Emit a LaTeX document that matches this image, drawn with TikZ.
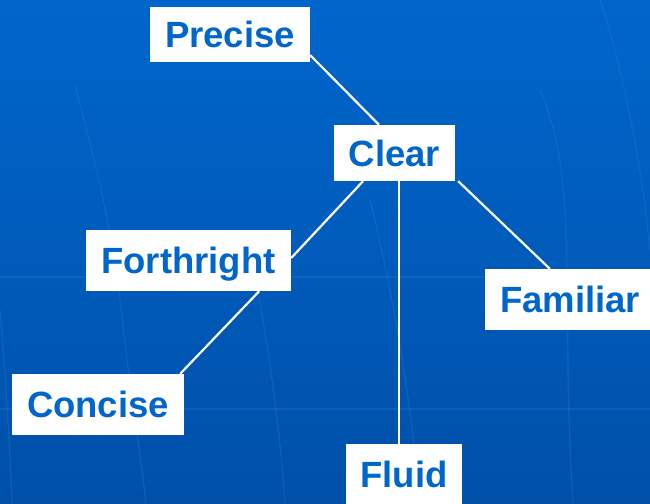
\documentclass[tikz,border=0pt]{standalone}
\usepackage{fontspec}
\setmainfont{Liberation Sans}
\definecolor{bgtop}{HTML}{0066CC}
\definecolor{bgbot}{HTML}{0050A8}
\definecolor{txtblue}{HTML}{0066CC}
\definecolor{faint}{HTML}{2A7EDC}
\tikzset{
  word/.style={fill=white, inner sep=0pt, text=txtblue,
    font=\fontsize{36.5}{40}\selectfont\bfseries,
    text height=26.5pt, text depth=0pt, anchor=center},
  link/.style={draw=white, line width=2.2pt},
  bgline/.style={draw=faint, line width=1.3pt, opacity=0.3}
}
\begin{document}
\begin{tikzpicture}[x=1pt,y=-1pt]
\useasboundingbox (0,0) rectangle (650,503);
\clip (0,0) rectangle (650,503);
\shade[top color=bgtop, bottom color=bgbot] (0,0) rectangle (650,503);
% faint background lines
\draw[bgline] (0,277) -- (650,277);
\draw[bgline] (0,409) -- (650,409);
\draw[bgline] (75,85) .. controls (95,160) and (112,230) .. (120,300) .. controls (130,390) and (140,450) .. (146,503);
\draw[bgline] (0,310) .. controls (6,380) and (10,450) .. (12,503);
\draw[bgline] (252,260) .. controls (268,340) and (280,430) .. (285,503);
\draw[bgline] (370,200) .. controls (395,300) and (412,410) .. (420,503);
\draw[bgline] (540,90) .. controls (580,180) and (560,300) .. (573,503);
\draw[bgline] (600,0) .. controls (620,60) and (640,150) .. (650,250);
% nodes
\node[word, minimum width=160pt, minimum height=55pt] (prec) at (230,34.5) {Precise};
\node[word, minimum width=121pt, minimum height=56pt] (clear) at (394.5,153) {Clear};
\node[word, minimum width=205pt, minimum height=61pt] (forth) at (188.5,260.5) {Forthright};
\node[word, minimum width=172pt, minimum height=61pt] (conc) at (98,404.5) {Concise};
\node[word, minimum width=170pt, minimum height=61pt] (fam) at (570,299.5) {Familiar};
\node[word, minimum width=116pt, minimum height=61pt] (fluid) at (404,474.5) {Fluid};
% connectors
\draw[link] ([yshift=7pt]prec.south east) -- ([xshift=-15.5pt]clear.north);
\draw[link] ([xshift=-31.5pt]clear.south) -- ([yshift=2.5pt]forth.east);
\draw[link] ([xshift=-32pt]forth.south east) -- ([xshift=-4pt]conc.north east);
\draw[link] ([xshift=4.5pt]clear.south) -- ([xshift=-5pt]fluid.north);
\draw[link] ([xshift=3pt]clear.south east) -- ([xshift=65pt]fam.north west);
\end{tikzpicture}
\end{document}
